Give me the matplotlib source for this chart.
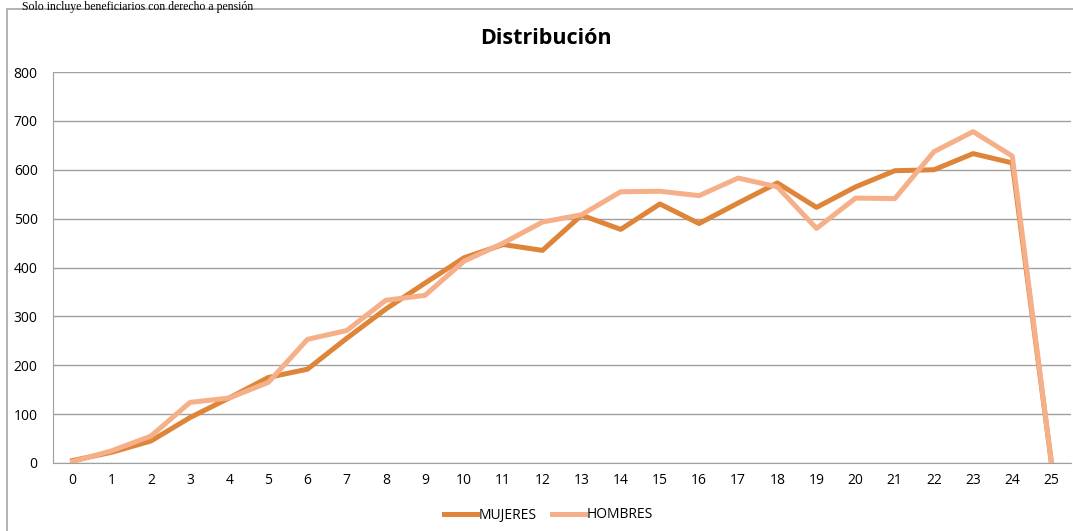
import numpy as np
import matplotlib.pyplot as plt
from matplotlib.patches import Rectangle

# ---------------- datos ----------------
edades = list(range(26))
mujeres = [5, 22, 45, 93, 133, 175, 192, 255, 315, 368, 420, 447, 435, 507, 478,
           530, 490, 532, 573, 523, 565, 598, 600, 633, 614, 0]
hombres = [3, 25, 55, 124, 133, 165, 253, 271, 333, 343, 413, 450, 493, 508, 555,
           556, 547, 583, 565, 480, 542, 541, 637, 678, 628, 0]
y_ticks = [0, 100, 200, 300, 400, 500, 600, 700, 800]

plt.rcParams['font.family'] = ['Open Sans', 'DejaVu Sans']

fig = plt.figure(figsize=(10.73, 5.31), dpi=100)
ax = fig.add_axes([53 / 1073, (531 - 463) / 531, (1071 - 53) / 1073, (463 - 72) / 531])

# marco exterior del gráfico
fig.patches.append(Rectangle((7 / 1073, -0.01), 1.0, (531 - 9) / 531 + 0.01,
                             transform=fig.transFigure, fill=False,
                             edgecolor='#A6A6A6', linewidth=1.2))

fig.text(22 / 1073, 0.999, 'Solo incluye beneficiarios con derecho a pensión',
         family='Liberation Serif', fontsize=8.5, va='top', ha='left')

ax.plot(edades, mujeres, color='#DE8539', linewidth=3.6, label='MUJERES',
        solid_joinstyle='round')
ax.plot(edades, hombres, color='#F5B08A', linewidth=3.6, label='HOMBRES',
        solid_joinstyle='round')

ax.set_xlim(-0.5, 25.5)
ax.set_ylim(0, 800)
ax.set_xticks(edades)
ax.set_yticks(y_ticks)
ax.tick_params(axis='both', length=0, labelsize=10, colors='#000000')
ax.tick_params(axis='x', pad=7)
ax.tick_params(axis='y', pad=11)
ax.grid(axis='y', color='#A0A0A0', linewidth=1)
ax.set_axisbelow(True)
for s in ['top', 'right']:
    ax.spines[s].set_visible(False)
ax.spines['left'].set_color('#A0A0A0')
ax.spines['bottom'].set_color('#A0A0A0')

fig.text(546 / 1073, 1 - 38 / 531, 'Distribución', fontsize=15.5, fontweight='bold',
         ha='center', va='center')

fig.legend(loc='center', bbox_to_anchor=(548 / 1073, 1 - 515 / 531), ncol=2,
           frameon=False, fontsize=10, handlelength=2.4, handletextpad=0.1,
           columnspacing=1.1)

fig.savefig('out.png', dpi=100)
